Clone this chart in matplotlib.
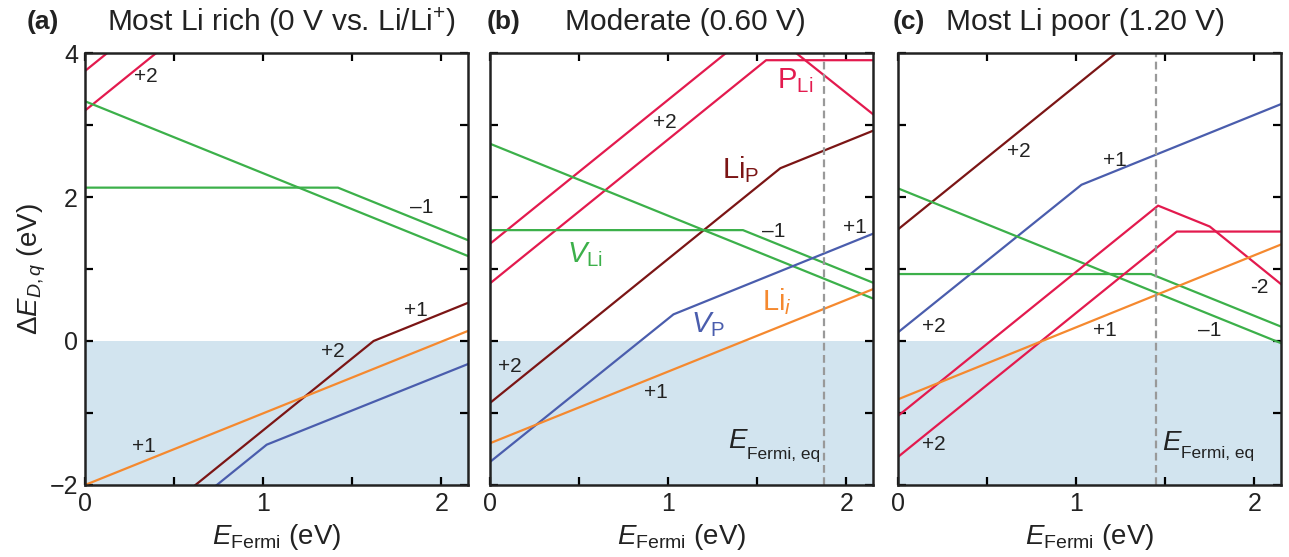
import numpy as np
import matplotlib
matplotlib.use("Agg")
import matplotlib.pyplot as plt

plt.rcParams['font.family'] = ['Liberation Sans', 'DejaVu Sans']
plt.rcParams['mathtext.fontset'] = 'custom'
plt.rcParams['mathtext.rm'] = 'Liberation Sans'
plt.rcParams['mathtext.it'] = 'Liberation Sans:italic'
plt.rcParams['mathtext.bf'] = 'Liberation Sans:bold'

# colours
RED = '#e31a4e'
DRED = '#7b1515'
GREEN = '#3cb04a'
BLUE = '#4a5dad'
ORANGE = '#f5892f'
SHADE = '#d2e4ef'
INK = '#222222'

# ---- data: piecewise-linear formation energies (x = E_Fermi, y = dE) ----
# panel (a) Most Li rich
a_PLi1_x, a_PLi1_y = [0, 0.5], [3.75, 4.75]
a_PLi2_x, a_PLi2_y = [0, 0.5], [3.2, 4.2]
a_VLi1_x, a_VLi1_y = [0, 2.15], [3.33, 1.18]
a_VLi2_x, a_VLi2_y = [0, 1.42, 2.15], [2.13, 2.13, 1.40]
a_LiP_x, a_LiP_y = [0.6, 1.62, 2.15], [-2.04, 0.0, 0.53]
a_Lii_x, a_Lii_y = [0, 2.15], [-2.0, 0.14]
a_VP_x, a_VP_y = [0.7, 1.02, 2.15], [-2.08, -1.44, -0.32]

# panel (b) Moderate
b_PLi1_x, b_PLi1_y = [0, 1.52, 2.15], [1.35, 4.39, 3.15]
b_PLi2_x, b_PLi2_y = [0, 1.55, 2.15], [0.8, 3.9, 3.9]
b_LiP_x, b_LiP_y = [0, 1.63, 2.15], [-0.86, 2.40, 2.92]
b_VLi1_x, b_VLi1_y = [0, 2.15], [2.74, 0.59]
b_VLi2_x, b_VLi2_y = [0, 1.42, 2.15], [1.54, 1.54, 0.81]
b_VP_x, b_VP_y = [0, 1.03, 2.15], [-1.68, 0.37, 1.49]
b_Lii_x, b_Lii_y = [0, 2.15], [-1.42, 0.72]
b_eq = 1.875

# panel (c) Most Li poor
c_LiP_x, c_LiP_y = [0, 2.15], [1.55, 5.85]
c_VP_x, c_VP_y = [0, 1.03, 2.15], [0.12, 2.17, 3.29]
c_VLi1_x, c_VLi1_y = [0, 2.15], [2.12, -0.03]
c_VLi2_x, c_VLi2_y = [0, 1.42, 2.15], [0.93, 0.93, 0.20]
c_PLi1_x, c_PLi1_y = [0, 1.46, 1.75, 2.15], [-1.04, 1.88, 1.59, 0.79]
c_PLi2_x, c_PLi2_y = [0, 1.565, 2.15], [-1.61, 1.52, 1.52]
c_Lii_x, c_Lii_y = [0, 2.15], [-0.81, 1.34]
c_eq = 1.45

panel_tags = ['(a)', '(b)', '(c)']
panel_titles = ['Most Li rich (0 V vs. Li/Li$^{+}$)', 'Moderate (0.60 V)',
                'Most Li poor (1.20 V)']

W, H = 1289, 557
fig = plt.figure(figsize=(W / 100, H / 100), dpi=100)

lefts = [85, 490, 898]
ax_w = 383
top, bottom = 53, 485
axes = []
for l in lefts:
    ax = fig.add_axes([l / W, 1 - bottom / H, ax_w / W, (bottom - top) / H])
    axes.append(ax)

lw = 1.6
for ax in axes:
    ax.axhspan(-2, 0, color=SHADE, lw=0, zorder=0)
    ax.set_xlim(0, 2.15)
    ax.set_ylim(-2, 4)
    ax.set_xticks([0, 1, 2])
    ax.set_xticks([0.5, 1.5], minor=True)
    ax.set_yticks([-2, 0, 2, 4])
    ax.set_yticks([-1, 1, 3], minor=True)
    ax.tick_params(which='both', direction='in', top=True, right=True,
                   length=6, width=1.6, labelsize=18, pad=5, labelcolor=INK)
    for s in ax.spines.values():
        s.set_linewidth(1.8)
        s.set_color(INK)
    ax.set_xticklabels(['0', '1', '2'])
    ax.set_xlabel(r'$E_{\rm Fermi}$ (eV)', fontsize=20, labelpad=4, color=INK)

axes[0].set_yticklabels(['\u22122', '0', '2', '4'])
axes[1].set_yticklabels([])
axes[2].set_yticklabels([])

fig.text(32 / W, 1 - 269 / H, '\u0394$E_{D,q}$ (eV)', rotation=90,
         fontsize=20, ha='center', va='center', color=INK)


def efermi_eq(ax, x, y, xs, ys):
    ax.text(x, y, r'$E$', fontsize=20, color=INK, ha='left', va='baseline')
    ax.text(xs, ys, 'Fermi, eq', fontsize=12.5, color=INK, ha='left',
            va='baseline')


# panel (a)
ax = axes[0]
ax.plot(a_PLi1_x, a_PLi1_y, color=RED, lw=lw)
ax.plot(a_PLi2_x, a_PLi2_y, color=RED, lw=lw)
ax.plot(a_VLi1_x, a_VLi1_y, color=GREEN, lw=lw)
ax.plot(a_VLi2_x, a_VLi2_y, color=GREEN, lw=lw)
ax.plot(a_LiP_x, a_LiP_y, color=DRED, lw=lw)
ax.plot(a_Lii_x, a_Lii_y, color=ORANGE, lw=lw)
ax.plot(a_VP_x, a_VP_y, color=BLUE, lw=lw)
kw = dict(fontsize=15, ha='center', va='center', color=INK)
ax.text(0.34, 3.67, '+2', **kw)
ax.text(1.89, 1.85, '\u20131', **kw)
ax.text(0.33, -1.47, '+1', **kw)
ax.text(1.39, -0.15, '+2', **kw)
ax.text(1.86, 0.43, '+1', **kw)

# panel (b)
ax = axes[1]
ax.plot(b_PLi1_x, b_PLi1_y, color=RED, lw=lw)
ax.plot(b_PLi2_x, b_PLi2_y, color=RED, lw=lw)
ax.plot(b_LiP_x, b_LiP_y, color=DRED, lw=lw)
ax.plot(b_VLi1_x, b_VLi1_y, color=GREEN, lw=lw)
ax.plot(b_VLi2_x, b_VLi2_y, color=GREEN, lw=lw)
ax.plot(b_VP_x, b_VP_y, color=BLUE, lw=lw)
ax.plot(b_Lii_x, b_Lii_y, color=ORANGE, lw=lw)
ax.axvline(b_eq, color='#999999', lw=1.6, ls=(0, (3.5, 2)))
ax.text(0.98, 3.03, '+2', **kw)
ax.text(1.59, 1.52, '\u20131', **kw)
ax.text(2.05, 1.57, '+1', **kw)
ax.text(0.11, -0.36, '+2', **kw)
ax.text(0.93, -0.71, '+1', **kw)
lk = dict(fontsize=21, ha='left', va='baseline')
ax.text(1.61, 3.51, r'P$_{\rm Li}$', color=RED, **lk)
ax.text(1.30, 2.26, r'Li$_{\rm P}$', color=DRED, **lk)
ax.text(0.43, 1.10, r'$V_{\rm Li}$', color=GREEN, **lk)
ax.text(1.525, 0.43, r'Li$_{i}$', color=ORANGE, **lk)
ax.text(1.13, 0.125, r'$V_{\rm P}$', color=BLUE, **lk)
efermi_eq(ax, 1.335, -1.49, 1.44, -1.64)

# panel (c)
ax = axes[2]
ax.plot(c_LiP_x, c_LiP_y, color=DRED, lw=lw)
ax.plot(c_VP_x, c_VP_y, color=BLUE, lw=lw)
ax.plot(c_VLi1_x, c_VLi1_y, color=GREEN, lw=lw)
ax.plot(c_VLi2_x, c_VLi2_y, color=GREEN, lw=lw)
ax.plot(c_PLi1_x, c_PLi1_y, color=RED, lw=lw)
ax.plot(c_PLi2_x, c_PLi2_y, color=RED, lw=lw)
ax.plot(c_Lii_x, c_Lii_y, color=ORANGE, lw=lw)
ax.axvline(c_eq, color='#999999', lw=1.6, ls=(0, (3.5, 2)))
ax.text(0.68, 2.63, '+2', **kw)
ax.text(1.22, 2.51, '+1', **kw)
ax.text(2.03, 0.75, '-2', **kw)
ax.text(0.20, 0.20, '+2', **kw)
ax.text(1.16, 0.15, '+1', **kw)
ax.text(1.75, 0.15, '\u20131', **kw)
ax.text(0.20, -1.44, '+2', **kw)
efermi_eq(ax, 1.48, -1.51, 1.587, -1.63)

# panel headings
tag_x = [27, 487, 893]
title_x = [281, 685, 1085]
for tx, tt, tag, title in zip(tag_x, title_x, panel_tags, panel_titles):
    fig.text(tx / W, 1 - 22 / H, tag, fontsize=19, fontweight='bold',
             ha='left', va='center', color=INK)
    fig.text(tt / W, 1 - 22 / H, title, fontsize=21.5, ha='center',
             va='center', color=INK)

fig.savefig('out.png', dpi=100)
